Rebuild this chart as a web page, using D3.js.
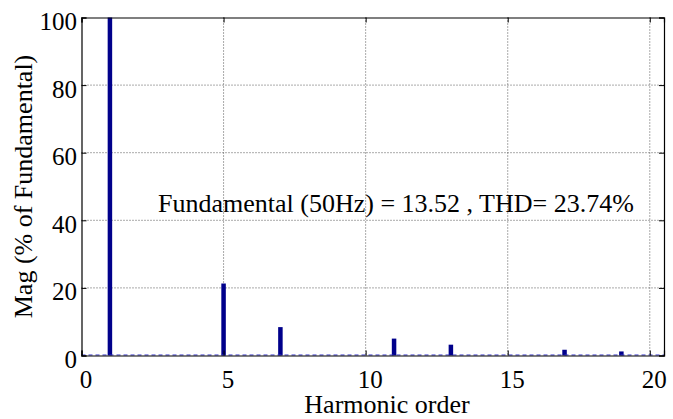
<!DOCTYPE html>
<html>
<head>
<meta charset="utf-8">
<script src="https://cdnjs.cloudflare.com/ajax/libs/d3/7.8.5/d3.min.js"></script>
<style>
  body { margin: 0; background: #fff; }
  svg text { font-family: 'Liberation Serif', 'Times New Roman', serif !important; }
</style>
</head>
<body>
<script>
var harmonics = [1, 5, 7, 11, 13, 17, 19];
var magnitudes = [100, 21.3, 8.4, 5.0, 3.2, 1.7, 1.2];
var xTicks = [0, 5, 10, 15, 20];
var yTicks = [0, 20, 40, 60, 80, 100];
var annotation = 'Fundamental (50Hz) = 13.52 , THD= 23.74%';

var FONT = 'Liberation Serif';
var W = 673, H = 419;
var margin = { left: 81.5, right: 9, top: 17.5, bottom: 63.5 };
var iw = W - margin.left - margin.right;
var ih = H - margin.top - margin.bottom;

var svg = d3.select('body').append('svg')
    .attr('width', W)
    .attr('height', H);

var g = svg.append('g')
    .attr('transform', 'translate(' + margin.left + ',' + margin.top + ')');

var x = d3.scaleLinear().domain([0, 20.5]).range([0, iw]);
var y = d3.scaleLinear().domain([0, 100]).range([ih, 0]);

// grid
g.append('g').selectAll('line').data(xTicks.filter(function(d) { return d > 0; }))
  .enter().append('line')
    .attr('x1', function(d) { return x(d); })
    .attr('x2', function(d) { return x(d); })
    .attr('y1', 0).attr('y2', ih)
    .attr('stroke', '#555').attr('stroke-width', 1)
    .attr('stroke-dasharray', '1,2');
g.append('g').selectAll('line').data(yTicks.filter(function(d) { return d > 0 && d < 100; }))
  .enter().append('line')
    .attr('x1', 0).attr('x2', iw)
    .attr('y1', function(d) { return y(d); })
    .attr('y2', function(d) { return y(d); })
    .attr('stroke', '#555').attr('stroke-width', 1)
    .attr('stroke-dasharray', '1,2');

// bars
var bw = 4.5;
g.append('g').selectAll('rect').data(harmonics)
  .enter().append('rect')
    .attr('x', function(d) { return x(d) - bw / 2; })
    .attr('y', function(d, i) { return y(magnitudes[i]); })
    .attr('width', bw)
    .attr('height', function(d, i) { return ih - y(magnitudes[i]); })
    .attr('fill', '#00008b');

// dashed zero line
g.append('line')
    .attr('x1', 0).attr('x2', iw)
    .attr('y1', ih - 0.5).attr('y2', ih - 0.5)
    .attr('stroke', '#3333cc').attr('stroke-width', 1.2)
    .attr('stroke-dasharray', '4,3');

// axes
var xAxis = d3.axisBottom(x).tickValues(xTicks).tickSize(-5);
var yAxis = d3.axisLeft(y).tickValues(yTicks).tickSize(-5).tickPadding(4.5);
var xTop = d3.axisTop(x).tickValues(xTicks).tickSize(-5).tickFormat('');
var yRight = d3.axisRight(y).tickValues(yTicks).tickSize(-5).tickFormat('');

function style(sel) {
  sel.attr('font-family', FONT).attr('font-size', 25);
  sel.selectAll('path').attr('stroke', '#000').attr('stroke-width', 1.2);
  sel.selectAll('line').attr('stroke', '#000');
  sel.selectAll('text').attr('font-family', FONT).attr('font-size', 25).attr('fill', '#000');
}

g.append('g').attr('transform', 'translate(0,' + ih + ')').call(xAxis).call(style)
  .selectAll('text').attr('y', 32.5).attr('dy', 0).attr('dx', 4);
g.append('g').call(yAxis).call(style)
  .selectAll('text').attr('dy', '0.48em');
g.append('g').call(xTop).call(style);
g.append('g').attr('transform', 'translate(' + iw + ',0)').call(yRight).call(style);

// labels
svg.append('text')
    .attr('x', 387).attr('y', 413)
    .attr('text-anchor', 'middle')
    .attr('font-family', FONT).attr('font-size', 26)
    .text('Harmonic order');

svg.append('text')
    .attr('transform', 'translate(32,' + (margin.top + ih / 2) + ') rotate(-90)')
    .attr('text-anchor', 'middle')
    .attr('font-family', FONT).attr('font-size', 26)
    .text('Mag (% of Fundamental)');

svg.append('text')
    .attr('x', 158).attr('y', 211.5)
    .attr('font-family', FONT).attr('font-size', 26)
    .text(annotation);
</script>
</body>
</html>
